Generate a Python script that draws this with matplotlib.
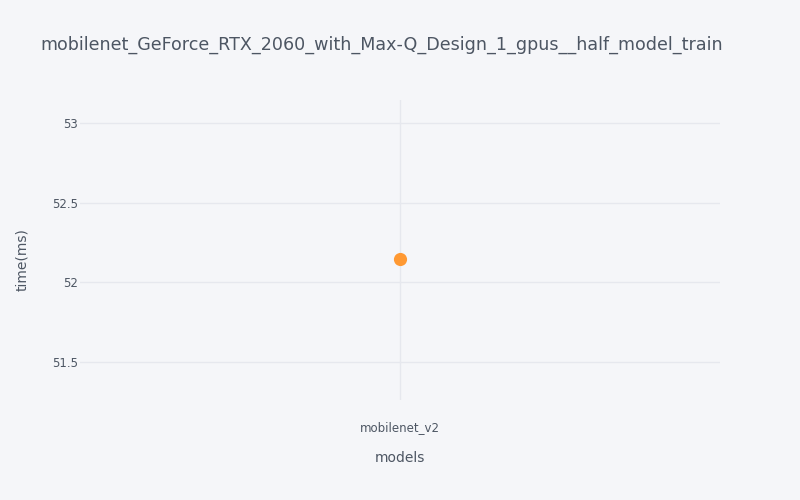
import matplotlib
matplotlib.use("Agg")

import matplotlib.pyplot as plt

models = ["mobilenet_v2"]
times_ms = [52.145]

title = "mobilenet_GeForce_RTX_2060_with_Max-Q_Design_1_gpus__half_model_train"
bg = "#f5f6f9"
text_color = "#4d5663"
grid_color = "#e6e8ee"

plt.rcParams["font.family"] = ["DejaVu Sans"]

fig = plt.figure(figsize=(8, 5), dpi=100, facecolor=bg)
ax = fig.add_axes([0.1, 0.2, 0.8, 0.6], facecolor=bg)

x = list(range(len(models)))
ax.scatter(x, times_ms, s=90, color="#ff9933", zorder=3, linewidths=0)

ax.set_xlim(-1, 1)
ax.set_ylim(51.26, 53.144)
ax.set_xticks(x)
ax.set_xticklabels(models)
ax.set_yticks([51.5, 52, 52.5, 53])
ax.set_yticklabels(["51.5", "52", "52.5", "53"])

ax.grid(True, color=grid_color, linewidth=1)
ax.set_axisbelow(True)
for s in ax.spines.values():
    s.set_visible(False)
ax.tick_params(length=0, colors=text_color, labelsize=8.5, pad=1.5)
ax.tick_params(axis="x", pad=15)

ax.set_xlabel("models", color=text_color, fontsize=10, labelpad=12)
ax.set_ylabel("time(ms)", color=text_color, fontsize=10)
ax.yaxis.set_label_coords(-0.08, 0.467)

fig.text(0.05, 0.91, title, color=text_color, fontsize=12.6, va="center", ha="left")

fig.savefig("out.png", dpi=100, facecolor=bg)
plt.close(fig)
